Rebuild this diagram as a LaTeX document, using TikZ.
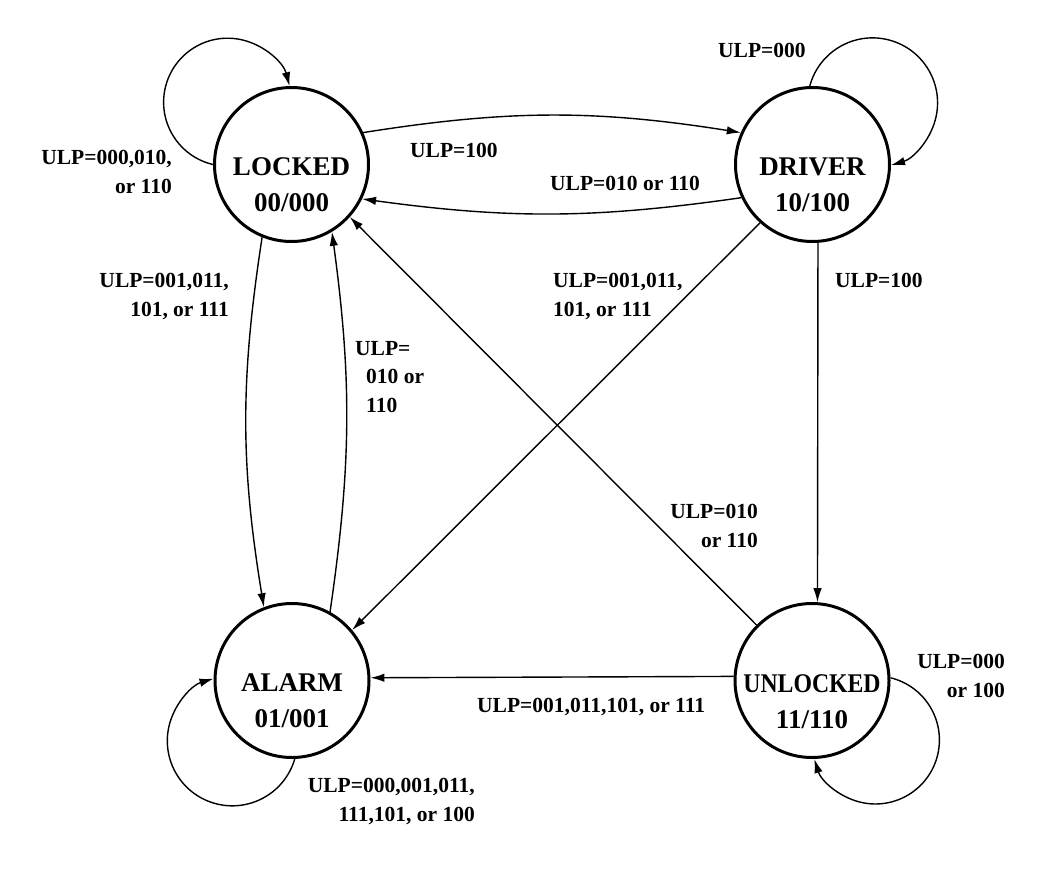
\documentclass[tikz,border=0pt]{standalone}
\usepackage{fontspec}
\setmainfont{Liberation Serif}
\usetikzlibrary{arrows.meta}
\tikzset{
  state/.style={circle, draw, line width=3pt, minimum size=154pt, inner sep=0pt},
  stname/.style={font=\bfseries\fontsize{27}{36}\selectfont, align=center, anchor=base, inner sep=0pt},
  lbl/.style={font=\bfseries\fontsize{21.5}{28.5}\selectfont, inner sep=0pt},
  arr/.style={line width=1.4pt, -{Latex[length=14pt,width=8.5pt]}}
}
\begin{document}
\begin{tikzpicture}[x=1pt,y=1pt]
\useasboundingbox (0,0) rectangle (1039,-873);
% states
\node[state] (L) at (291.5,-164.5) {};
\node[state] (D) at (812.5,-164.5) {};
\node[state] (A) at (292,-680.5) {};
\node[state] (U) at (812,-680.5) {};
\node[stname] (Lt) at (291.5,-211) {LOCKED\\00/000};
\node[stname] (Dt) at (812.5,-211) {DRIVER\\10/100};
\node[stname] (At) at (292,-727) {ALARM\\01/001};
\node[stname] (Ut) at (812,-728) {\scalebox{0.88}[1]{UNLOCKED}\\11/110};
% self loops
\draw[arr] (L.180) arc[start angle=256.8, end angle=14.5, radius=64];
\draw[arr] (D.92) arc[start angle=165, end angle=-73.5, radius=65];
\draw[arr] (A.-88) arc[start angle=-16.2, end angle=-253.2, radius=65];
\draw[arr] (U.2) arc[start angle=76.4, end angle=-162.7, radius=64];
% transitions
\draw[arr] (L.24) to[bend left=9] (D.156);
\draw[arr] (D.205) to[bend left=8] (L.-26);
\draw[arr] (L.-112) to[bend right=9] (A.111.5);
\draw[arr] (A.61.7) to[bend right=8] (L.-59.4);
\draw[arr] (D.228) -- (A.40);
\draw[arr] (U.135) -- (L.-42.4);
\draw[arr] (D.-86.7) -- (U.86.7);
\draw[arr] (U.177.4) -- (A.2.6);
% labels
\node[lbl, align=right, anchor=base east] (l1) at (172,-193) {ULP=000,010,\\or 110};
\node[lbl, align=right, anchor=base east] (l2) at (229,-316) {ULP=001,011,\\101, or 111};
\node[lbl, align=left, anchor=base west] (l3) at (355,-412) {ULP=\\\hspace*{11pt}010 or\\\hspace*{11pt}110};
\node[lbl, align=left, anchor=base west] (l4) at (553,-316) {ULP=001,011,\\101, or 111};
\node[lbl, align=right, anchor=base east] (l5) at (758,-547) {ULP=010\\or 110};
\node[lbl, anchor=base west] (l6) at (477,-712) {ULP=001,011,101, or 111};
\node[lbl, align=right, anchor=base east] (l7) at (475,-821) {ULP=000,001,011,\\111,101, or 100};
\node[lbl, anchor=base west] (l8) at (835,-287) {ULP=100};
\node[lbl, anchor=base west] (l9) at (718,-57) {ULP=000};
\node[lbl, anchor=base west] (l10) at (410,-157) {ULP=100};
\node[lbl, anchor=base west] (l11) at (550,-190) {ULP=010 or 110};
\node[lbl, align=right, anchor=base east] (l12) at (1005,-697) {ULP=000\\or 100};
\end{tikzpicture}
\end{document}
